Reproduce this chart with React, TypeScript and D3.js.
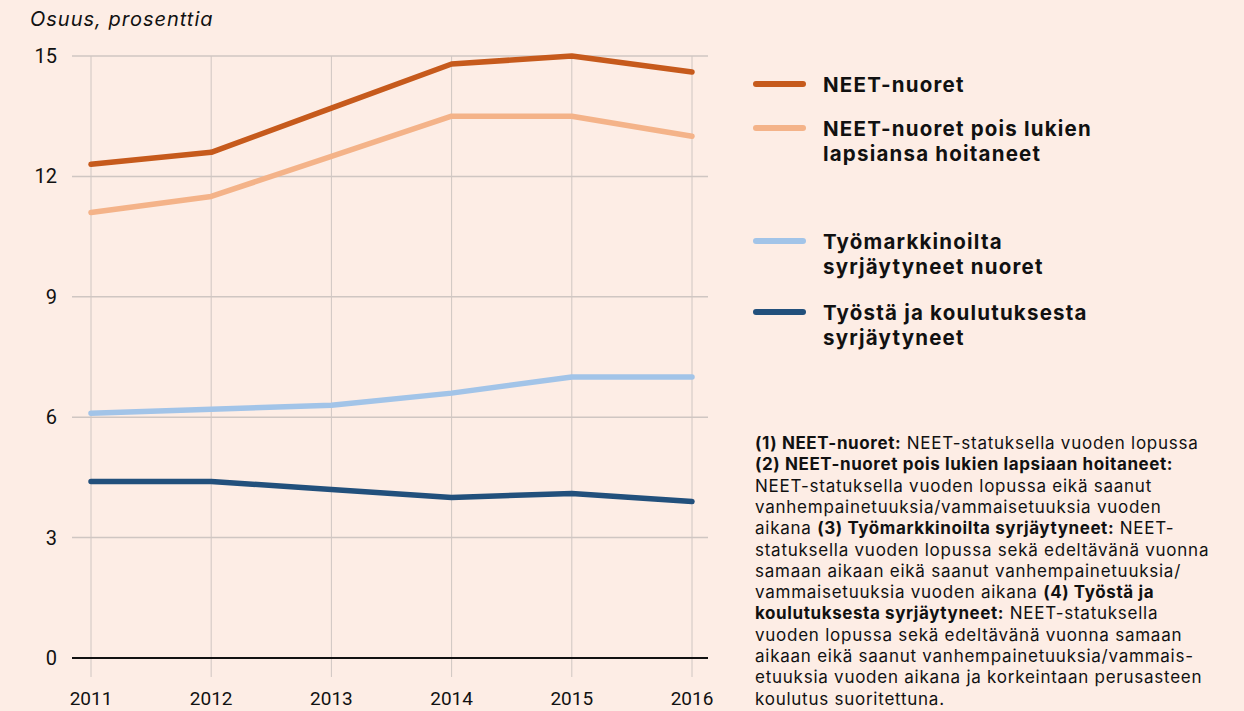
import React, { useEffect, useRef } from 'react';
import * as d3 from 'd3';

const years = [2011, 2012, 2013, 2014, 2015, 2016];
const neet = [12.3, 12.6, 13.7, 14.8, 15.0, 14.6];
const neetExclCare = [11.1, 11.5, 12.5, 13.5, 13.5, 13.0];
const labourExcluded = [6.1, 6.2, 6.3, 6.6, 7.0, 7.0];
const workEduExcluded = [4.4, 4.4, 4.2, 4.0, 4.1, 3.9];
const yTicks = [0, 3, 6, 9, 12, 15];

const seriesNames = [
  ['NEET-nuoret'],
  ['NEET-nuoret pois lukien', 'lapsiansa hoitaneet'],
  ['Työmarkkinoilta', 'syrjäytyneet nuoret'],
  ['Työstä ja koulutuksesta', 'syrjäytyneet'],
];
const seriesColors = ['#C65A1C', '#F4B389', '#A2C4E8', '#22507C'];

// footnote lines, [text, bold]
const footnote: [string, boolean][][] = [
  [['(1) NEET-nuoret:', true], [' NEET-statuksella vuoden lopussa', false]],
  [['(2) NEET-nuoret pois lukien lapsiaan hoitaneet:', true]],
  [['NEET-statuksella vuoden lopussa eikä saanut', false]],
  [['vanhempainetuuksia/vammaisetuuksia vuoden', false]],
  [['aikana ', false], ['(3) Työmarkkinoilta syrjäytyneet:', true], [' NEET-', false]],
  [['statuksella vuoden lopussa sekä edeltävänä vuonna', false]],
  [['samaan aikaan eikä saanut vanhempainetuuksia/', false]],
  [['vammaisetuuksia vuoden aikana ', false], ['(4) Työstä ja', true]],
  [['koulutuksesta syrjäytyneet:', true], [' NEET-statuksella', false]],
  [['vuoden lopussa sekä edeltävänä vuonna samaan', false]],
  [['aikaan eikä saanut vanhempainetuuksia/vammais-', false]],
  [['etuuksia vuoden aikana ja korkeintaan perusasteen', false]],
  [['koulutus suoritettuna.', false]],
];

const App: React.FC = () => {
  const svgRef = useRef<SVGSVGElement>(null);

  useEffect(() => {
    if (!svgRef.current) return;
    document.body.style.margin = '0';

    const W = 1244, H = 711;
    const font = 'Roboto, "Liberation Sans", sans-serif';
    const wide = 'Inter, "Open Sans", sans-serif';
    const svg = d3.select(svgRef.current).attr('width', W).attr('height', H);
    svg.selectAll('*').remove();

    svg.append('rect').attr('width', W).attr('height', H).attr('fill', '#FDEDE5');

    const x = d3.scalePoint<number>().domain(years).range([91, 692]);
    const y = d3.scaleLinear().domain([0, 15]).range([658, 56]);

    // vertical grid
    svg.append('g').selectAll('line').data(years).enter().append('line')
      .attr('x1', d => x(d)!).attr('x2', d => x(d)!)
      .attr('y1', 56).attr('y2', 677)
      .attr('stroke', '#CFC6C2').attr('stroke-width', 1);

    // horizontal grid
    svg.append('g').selectAll('line').data(yTicks.filter(t => t > 0)).enter().append('line')
      .attr('x1', 72).attr('x2', 708)
      .attr('y1', d => y(d)).attr('y2', d => y(d))
      .attr('stroke', '#CFC6C2').attr('stroke-width', 1.5);

    svg.append('line')
      .attr('x1', 72).attr('x2', 708).attr('y1', y(0)).attr('y2', y(0))
      .attr('stroke', '#111').attr('stroke-width', 2.2);

    svg.append('g').selectAll('text').data(yTicks).enter().append('text')
      .attr('x', 57).attr('y', d => y(d) + 7)
      .attr('text-anchor', 'end')
      .style('font-family', font).style('font-size', '20px').attr('fill', '#111')
      .text(d => d);

    svg.append('g').selectAll('text').data(years).enter().append('text')
      .attr('x', d => x(d)!).attr('y', 705)
      .attr('text-anchor', 'middle')
      .style('font-family', font).style('font-size', '19px').attr('fill', '#111')
      .text(d => d);

    svg.append('text')
      .attr('x', 30).attr('y', 26)
      .style('font-family', wide).style('font-size', '20px').style('font-style', 'italic')
      .style('letter-spacing', '1px')
      .attr('fill', '#111')
      .text('Osuus, prosenttia');

    const line = d3.line<number>()
      .x((_, i) => x(years[i])!)
      .y(d => y(d));

    [neet, neetExclCare, labourExcluded, workEduExcluded].forEach((s, i) => {
      svg.append('path')
        .datum(s)
        .attr('d', line)
        .attr('fill', 'none')
        .attr('stroke', seriesColors[i])
        .attr('stroke-width', 5.5)
        .attr('stroke-linecap', 'round')
        .attr('stroke-linejoin', 'round');
    });

    // legend
    const legendY = [84, 128, 241, 312];
    seriesNames.forEach((lines, i) => {
      svg.append('line')
        .attr('x1', 756).attr('x2', 803)
        .attr('y1', legendY[i]).attr('y2', legendY[i])
        .attr('stroke', seriesColors[i]).attr('stroke-width', 6)
        .attr('stroke-linecap', 'round');
      const t = svg.append('text')
        .attr('x', 823).attr('y', legendY[i] + 8)
        .style('font-family', wide).style('font-size', '20.5px').style('font-weight', 'bold')
        .style('letter-spacing', '1.2px')
        .attr('fill', '#111');
      lines.forEach((s, j) => {
        t.append('tspan').attr('x', 823).attr('dy', j === 0 ? 0 : 25).text(s);
      });
    });

    // footnote
    footnote.forEach((parts, i) => {
      const t = svg.append('text')
        .attr('x', 755).attr('y', 449 + i * 21.3)
        .style('font-family', wide).style('font-size', '17px')
        .attr('fill', '#111');
      parts.forEach(([s, b]) => {
        t.append('tspan')
          .style('font-weight', b ? 'bold' : 'normal')
          .style('letter-spacing', b ? '0.6px' : '0.75px')
          .text(s);
      });
    });
  }, []);

  return <svg ref={svgRef} style={{ display: 'block' }}></svg>;
};

export default App;
